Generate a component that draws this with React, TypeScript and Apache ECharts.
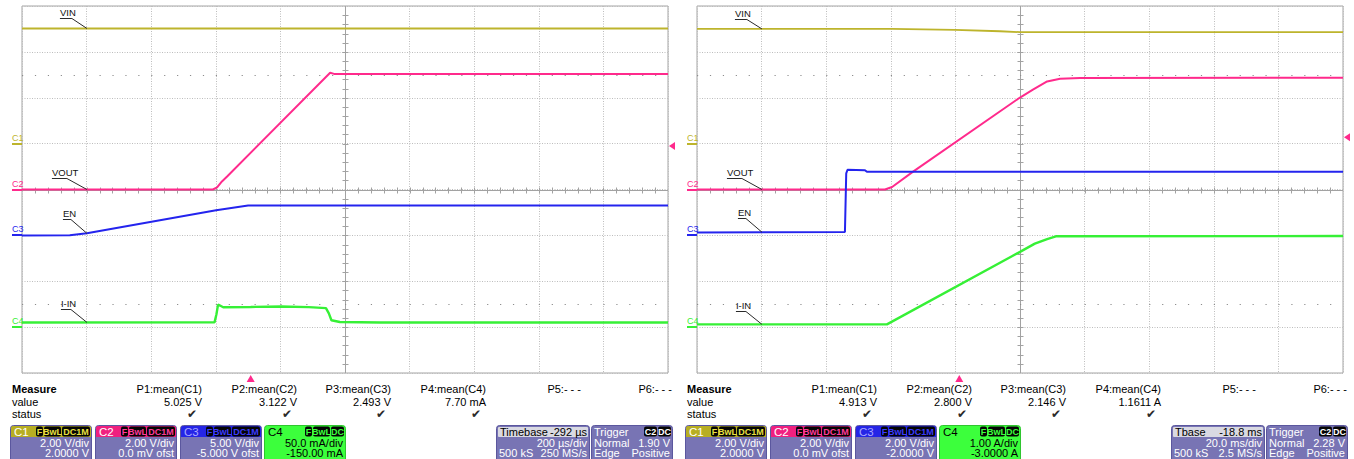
import React, { useEffect, useRef } from "react";
import * as echarts from "echarts";

type Pt = [number, number];

const FONT = "'Liberation Sans', Arial, sans-serif";

// ---------- Left capture: 200 µs/div, time in µs ----------
const leftTimeRange: Pt = [-708, 1292];
const leftVin: Pt[] = [[-708, 5.02], [1292, 5.02]];
const leftVout: Pt[] = [
  [-708, 0], [-117, 0], [-104, 0.09], [-89, 0.35], [-73, 0.57],
  [246, 5.09], [258, 5.04], [1292, 5.04],
];
const leftEn: Pt[] = [
  [-708, 0], [-560, 0.02], [-507, 0.22], [-107, 2.75], [-8, 3.26], [1292, 3.26],
];
// input current in mA
const leftIin: Pt[] = [
  [-708, 5.1], [-112, 5.2], [-106, 14], [-101, 24.5], [-95, 23.5], [-85, 21.6],
  [0, 22.0], [94, 22.5], [180, 21.8], [233, 20.7], [242, 15], [250, 7.5],
  [276, 5.6], [400, 5.1], [1292, 5.1],
];

// ---------- Right capture: 20 ms/div, time in ms ----------
const rightTimeRange: Pt = [-81.2, 118.8];
const rightVin: Pt[] = [
  [-81.2, 5.0], [-20.8, 5.0], [-1.3, 4.96], [12.6, 4.9], [18.8, 4.86], [118.8, 4.86],
];
const rightVout: Pt[] = [
  [-81.2, 0], [-23.0, 0], [-20.8, 0.11], [-14.3, 0.78], [18.8, 4.01], [22.8, 4.35],
  [27.2, 4.71], [31.2, 4.83], [37.4, 4.86], [118.8, 4.87],
];
const rightEn: Pt[] = [
  [-81.2, 0.13], [-35.4, 0.15], [-35.0, 2.7], [-34.6, 2.86], [-29.2, 2.84],
  [-28.6, 2.77], [118.8, 2.77],
];
// input current in A
const rightIin: Pt[] = [
  [-81.2, 0.06], [-22.4, 0.06], [18.8, 1.64], [23.4, 1.82], [27.2, 1.92],
  [29.9, 1.98], [118.8, 1.985],
];

// Vertical settings per channel C1..C4 (units per division, offset)
const leftScales = [2, 2, 5, 50];
const leftOffsets = [2, 0, -5, -150];
const rightScales = [2, 2, 2, 1];
const rightOffsets = [2, 0, -2, -3];

// Trigger: C2 level, trigger at t = 0
const leftTrigLevel = 1.9;
const rightTrigLevel = 2.28;

// Trace annotations are pinned one division right of the screen's left edge
const leftLabelTime = -507;
const rightLabelTime = -61.1;

const traceNames = ["VIN", "VOUT", "EN", "I-IN"];
const channelNames = ["C1", "C2", "C3", "C4"];

// ---------- Measurement and status panel texts ----------
const measureHeads = ["P1:mean(C1)", "P2:mean(C2)", "P3:mean(C3)", "P4:mean(C4)", "P5:- - -", "P6:- - -"];
const leftMeasures = ["5.025 V", "3.122 V", "2.493 V", "7.70 mA"];
const rightMeasures = ["4.913 V", "2.800 V", "2.146 V", "1.1611 A"];
const leftChannelInfo = [
  ["2.00 V/div", "2.0000 V"],
  ["2.00 V/div", "0.0 mV ofst"],
  ["5.00 V/div", "-5.000 V ofst"],
  ["50.0 mA/div", "-150.00 mA"],
];
const rightChannelInfo = [
  ["2.00 V/div", "2.0000 V"],
  ["2.00 V/div", "0.0 mV ofst"],
  ["2.00 V/div", "-2.0000 V"],
  ["1.00 A/div", "-3.0000 A"],
];
const channelTags = [["F", "BwL", "DC1M"], ["F", "BwL", "DC1M"], ["F", "BwL", "DC1M"], ["F", "BwL", "DC"]];
const leftTimebase = ["Timebase", "-292 µs", "200 µs/div", "500 kS", "250 MS/s"];
const rightTimebase = ["Tbase", "-18.8 ms", "20.0 ms/div", "500 kS", "2.5 MS/s"];
const leftTrigger = ["Normal", "1.90 V", "Edge", "Positive"];
const rightTrigger = ["Normal", "2.28 V", "Edge", "Positive"];

// ---------- Styles ----------
const traceColors = ["#bdb42c", "#ff2a8c", "#2424ee", "#36f036"];
const traceWidths = [1.8, 2, 2, 2.4];
const headerColors = ["#b7ae22", "#f0207f", "#2525e6", "#3cff3c"];
const headerTextColors = ["#ffffff", "#ffffff", "#a8a8ff", "#000000"];
const tagTextColors = ["#e8e040", "#ff3a9a", "#3b3bff", "#3cff3c"];
const PURPLE = "#7874b4";
const PURPLE_EDGE = "#5b579e";
// leader geometry: text left, underline rise, leader start (px from the anchor)
const labelGeom = [
  { tx: 27, dy: 10, ds: 15 },
  { tx: 35, dy: 12, ds: 20 },
  { tx: 24, dy: 14, ds: 16 },
  { tx: 26, dy: 13, ds: 16 },
];

function valueAt(pts: Pt[], t: number): number {
  for (let i = 1; i < pts.length; i++) {
    const [t0, v0] = pts[i - 1];
    const [t1, v1] = pts[i];
    if (t >= t0 && t <= t1) return t1 === t0 ? v1 : v0 + ((t - t0) / (t1 - t0)) * (v1 - v0);
  }
  return pts[pts.length - 1][1];
}

const crisp = (v: number) => Math.round(v) + 0.5;

function textStyle(text: string, x: number, y: number, o: any = {}) {
  const align = o.align ?? "left";
  const v = o.valign ?? "middle";
  return {
    text, x, y,
    fill: o.fill ?? "#000",
    font: `${o.weight ?? "normal"} ${o.size ?? 11}px ${FONT}`,
    textAlign: align, align,
    textVerticalAlign: v, verticalAlign: v,
  };
}

// Graticule extras: centre cross with fifth-division ticks and the ±2.5 div dot rows
function graticule(params: any) {
  const cs = params.coordSys;
  const x = cs.x, y = cs.y, w = cs.width, h = cs.height;
  const cx = crisp(x + w / 2), cy = crisp(y + h / 2);
  const stroke = { stroke: "#a2a2a2", lineWidth: 1 };
  const children: any[] = [
    { type: "line", shape: { x1: cx, y1: y, x2: cx, y2: y + h }, style: stroke },
    { type: "line", shape: { x1: x, y1: cy, x2: x + w, y2: cy }, style: stroke },
  ];
  for (let i = 1; i < 40; i++) {
    const ty = crisp(y + (i * h) / 40);
    children.push({ type: "line", shape: { x1: cx - 3, y1: ty, x2: cx + 3, y2: ty }, style: stroke });
  }
  for (let i = 1; i < 50; i++) {
    const tx = crisp(x + (i * w) / 50);
    children.push({ type: "line", shape: { x1: tx, y1: cy - 3, x2: tx, y2: cy + 3 }, style: stroke });
  }
  for (const k of [-2.5, 2.5]) {
    const ly = crisp(y + h / 2 + (k * h) / 8);
    children.push({
      type: "line",
      shape: { x1: x, y1: ly, x2: x + w, y2: ly },
      style: { stroke: "#8c8c8c", lineWidth: 1, lineDash: [1.2, w / 50 - 1.2] },
    });
  }
  return { type: "group", children };
}

function labelRenderer(name: string, g: { tx: number; dy: number; ds: number }) {
  return (_params: any, api: any) => {
    const p = api.coord([api.value(0), api.value(1)]);
    const ax = p[0], ay = p[1];
    const ulY = crisp(ay - g.dy);
    const tl = ax - g.tx, sx = ax - g.ds;
    const line = { stroke: "#2a2a2a", lineWidth: 1 };
    return {
      type: "group",
      children: [
        { type: "text", style: textStyle(name, tl, ulY - 1, { size: 9.5, valign: "bottom", fill: "#111" }) },
        { type: "line", shape: { x1: tl, y1: ulY, x2: sx, y2: ulY }, style: line },
        { type: "line", shape: { x1: sx, y1: ulY, x2: ax, y2: ay }, style: line },
      ],
    };
  };
}

function panelSeries(p: number, traces: Pt[][], scales: number[], offsets: number[], labelTime: number, tMax: number, tMin: number, trigLevel: number) {
  const toDiv = (ch: number, v: number) => (v + offsets[ch]) / scales[ch];
  const base = { xAxisIndex: p, yAxisIndex: p, silent: true, animation: false };
  const series: any[] = [];
  series.push({ ...base, type: "custom", z: 1, clip: false, data: [[tMin, 0]], renderItem: graticule });
  traces.forEach((pts, ch) => {
    series.push({
      ...base,
      type: "line",
      name: channelNames[ch],
      z: 3,
      symbol: "none",
      showSymbol: false,
      data: pts.map(([t, v]) => [t, toDiv(ch, v)]),
      lineStyle: { color: traceColors[ch], width: traceWidths[ch] },
      itemStyle: { color: traceColors[ch] },
    });
  });
  traceNames.forEach((name, ch) => {
    series.push({
      ...base,
      type: "custom",
      z: 5,
      clip: false,
      data: [[labelTime, toDiv(ch, valueAt(traces[ch], labelTime))]],
      renderItem: labelRenderer(name, labelGeom[ch]),
    });
  });
  // channel ground markers at the left edge
  series.push({
    ...base,
    type: "custom",
    z: 5,
    clip: false,
    data: offsets.map((o, ch) => [tMin, o / scales[ch], ch]),
    renderItem: (_params: any, api: any) => {
      const ch = api.value(2);
      const pt = api.coord([api.value(0), api.value(1)]);
      const y = Math.round(pt[1]);
      return {
        type: "group",
        children: [
          { type: "text", style: textStyle(channelNames[ch], pt[0] - 10, y - 2, { size: 9, valign: "bottom", fill: traceColors[ch] }) },
          { type: "line", shape: { x1: pt[0] - 10, y1: y, x2: pt[0], y2: y }, style: { stroke: traceColors[ch], lineWidth: 2 } },
        ],
      };
    },
  });
  // trigger position (bottom) and trigger level (right edge)
  series.push({
    ...base,
    type: "custom",
    z: 5,
    clip: false,
    data: [[0, -4]],
    renderItem: (_params: any, api: any) => {
      const pt = api.coord([api.value(0), api.value(1)]);
      return {
        type: "polygon",
        shape: { points: [[pt[0], pt[1] + 2], [pt[0] - 4, pt[1] + 9], [pt[0] + 4, pt[1] + 9]] },
        style: { fill: traceColors[1] },
      };
    },
  });
  series.push({
    ...base,
    type: "custom",
    z: 5,
    clip: false,
    data: [[tMax, toDiv(1, trigLevel)]],
    renderItem: (_params: any, api: any) => {
      const pt = api.coord([api.value(0), api.value(1)]);
      return {
        type: "polygon",
        shape: { points: [[pt[0] + 1, pt[1]], [pt[0] + 7, pt[1] - 4], [pt[0] + 7, pt[1] + 4]] },
        style: { fill: traceColors[1] },
      };
    },
  });
  return series;
}

// ---------- status panel (graphic component) ----------
const TAG_W: Record<string, number> = { F: 7, BwL: 17, DC1M: 28, DC: 13, C2: 13 };
const ROW1 = 442.5;
const ROW2 = 452.5;

function txt(text: string, x: number, y: number, o: any = {}) {
  return { type: "text", silent: true, z: 20, style: textStyle(text, x, y, o) };
}
function rect(x: number, y: number, w: number, h: number, fill: string, stroke?: string, r: any = 0) {
  return { type: "rect", silent: true, z: 18, shape: { x, y, width: w, height: h, r }, style: { fill, stroke: stroke ?? "none", lineWidth: 1 } };
}
function tags(list: string[], right: number, y: number, fg: string) {
  const out: any[] = [];
  let x = right;
  for (let i = list.length - 1; i >= 0; i--) {
    const w = TAG_W[list[i]] ?? 12;
    x -= w;
    out.push({ ...rect(x, y, w, 10, "#050505", undefined, 2), z: 19 });
    out.push(txt(list[i], x + w / 2, y + 5.5, { size: 9, fill: fg, align: "center", weight: "bold" }));
    x -= 1;
  }
  return out;
}

function statusPanel(dx: number, measures: string[], chanInfo: string[][], tb: string[], trig: string[]) {
  const g: any[] = [];
  g.push(txt("Measure", dx + 12, 389, { weight: "bold" }));
  g.push(txt("value", dx + 12, 402));
  g.push(txt("status", dx + 12, 414));
  const cols = [202, 297, 391, 486, 581, 672];
  measureHeads.forEach((h, i) => g.push(txt(h, dx + cols[i], 389, { align: "right" })));
  measures.forEach((m, i) => {
    g.push(txt(m, dx + cols[i], 402, { align: "right" }));
    g.push(txt("✔", dx + cols[i] - 5, 414, { align: "right", size: 12, fill: "#2a2a2a" }));
  });

  const boxX = [10, 95, 180, 264];
  chanInfo.forEach((lines, ch) => {
    const x0 = dx + boxX[ch];
    const green = ch === 3;
    const body = green ? headerColors[3] : PURPLE;
    const fg = green ? "#000" : "#fff";
    g.push(rect(x0 + 0.5, 425.5, 81, 40, body, green ? "#2fc52f" : PURPLE_EDGE, 3));
    if (!green) g.push({ ...rect(x0 + 1, 426, 80, 11, headerColors[ch], undefined, [2, 2, 0, 0]), z: 18.5 });
    g.push(txt(channelNames[ch], x0 + 4, 432, { fill: headerTextColors[ch], size: 11.5 }));
    g.push(...tags(channelTags[ch], x0 + 80, 426.5, tagTextColors[ch]));
    g.push(txt(lines[0], x0 + 79, ROW1, { align: "right", fill: fg }));
    g.push(txt(lines[1], x0 + 79, ROW2, { align: "right", fill: fg }));
  });

  // timebase box
  const tx = dx + 496;
  g.push(rect(tx + 0.5, 425.5, 93, 40, PURPLE, PURPLE_EDGE, 3));
  g.push({ ...rect(tx + 2, 427, 90, 10, "#d9d9e2", undefined, 1), z: 18.5 });
  g.push(txt(tb[0], tx + 4, 432, { fill: "#000" }));
  g.push(txt(tb[1], tx + 91, 432, { align: "right", fill: "#000" }));
  g.push(txt(tb[2], tx + 91, ROW1, { align: "right", fill: "#fff" }));
  g.push(txt(tb[3], tx + 3, ROW2, { fill: "#fff" }));
  g.push(txt(tb[4], tx + 91, ROW2, { align: "right", fill: "#fff" }));

  // trigger box
  const rx = dx + 591;
  g.push(rect(rx + 0.5, 425.5, 81, 40, PURPLE, PURPLE_EDGE, 3));
  g.push(txt("Trigger", rx + 3, 432, { fill: "#fff" }));
  g.push(...tags(["C2", "DC"], rx + 80, 426.5, "#ffffff"));
  g.push(txt(trig[0], rx + 3, ROW1, { fill: "#fff" }));
  g.push(txt(trig[1], rx + 79, ROW1, { align: "right", fill: "#fff" }));
  g.push(txt(trig[2], rx + 3, ROW2, { fill: "#fff" }));
  g.push(txt(trig[3], rx + 79, ROW2, { align: "right", fill: "#fff" }));
  return g;
}

function buildOption() {
  const splitLine = { show: true, lineStyle: { color: "#bdbdbd", width: 1, type: [1, 1.5] as any } };
  const hidden = { axisLine: { show: false }, axisTick: { show: false }, axisLabel: { show: false } };
  const gridBase = { show: true, borderColor: "#a4a4a4", borderWidth: 1, backgroundColor: "transparent" };
  return {
    animation: false,
    backgroundColor: "#ffffff",
    grid: [
      { ...gridBase, left: 22, top: 6, width: 646, height: 367 },
      { ...gridBase, left: 697, top: 6, width: 646, height: 367 },
    ],
    xAxis: [
      { gridIndex: 0, type: "value", min: leftTimeRange[0], max: leftTimeRange[1], interval: 200, splitLine, ...hidden },
      { gridIndex: 1, type: "value", min: rightTimeRange[0], max: rightTimeRange[1], interval: 20, splitLine, ...hidden },
    ],
    yAxis: [
      { gridIndex: 0, type: "value", min: -4, max: 4, interval: 1, splitLine, ...hidden },
      { gridIndex: 1, type: "value", min: -4, max: 4, interval: 1, splitLine, ...hidden },
    ],
    series: [
      ...panelSeries(0, [leftVin, leftVout, leftEn, leftIin], leftScales, leftOffsets, leftLabelTime, leftTimeRange[1], leftTimeRange[0], leftTrigLevel),
      ...panelSeries(1, [rightVin, rightVout, rightEn, rightIin], rightScales, rightOffsets, rightLabelTime, rightTimeRange[1], rightTimeRange[0], rightTrigLevel),
    ],
    graphic: [
      ...statusPanel(0, leftMeasures, leftChannelInfo, leftTimebase, leftTrigger),
      ...statusPanel(675, rightMeasures, rightChannelInfo, rightTimebase, rightTrigger),
    ],
  };
}

export default function App() {
  const ref = useRef<HTMLDivElement>(null);
  useEffect(() => {
    if (!ref.current) return;
    const chart = echarts.init(ref.current, undefined, { renderer: "svg" });
    chart.setOption(buildOption() as any);
    return () => chart.dispose();
  }, []);
  return (
    <div
      ref={ref}
      style={{ position: "absolute", left: 0, top: 0, width: 1354, height: 459, background: "#fff" }}
    />
  );
}
